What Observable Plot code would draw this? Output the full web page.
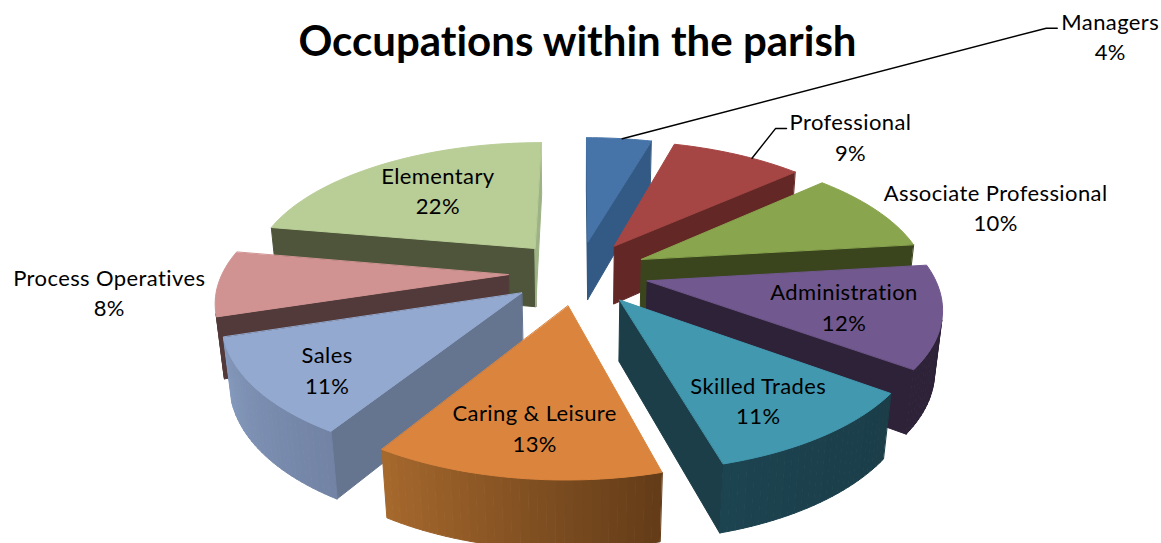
<!DOCTYPE html>
<html><head><meta charset="utf-8">
<script src="https://cdn.jsdelivr.net/npm/d3@7"></script>
<script src="https://cdn.jsdelivr.net/npm/@observablehq/plot@0.6"></script>
<style>
html,body{margin:0;padding:0;background:#fff;overflow:hidden}
#wrap{position:relative;width:1161px;height:543px}
h1{position:absolute;left:0;top:15px;width:1155px;margin:0;text-align:center;font:700 42px Lato,sans-serif;color:#000;font-variant-ligatures:none}
svg text{letter-spacing:.4px;font-variant-ligatures:none}
</style></head><body>
<div id="wrap"><h1>Occupations within the parish</h1><div id="chart"></div></div>
<script>
const occupations = ["Managers","Professional","Associate Professional","Administration","Skilled Trades","Caring & Leisure","Sales","Process Operatives","Elementary"];
const shares = [4.4,8.9,9.8,12,10.6,13.1,11.3,7.7,22.2];
const topColors = ["#4673a8","#a64644","#89a54e","#71588f","#4198af","#db843d","#93a9cf","#d09392","#b9cd96"];
const startWallColors = ["#335a84","#632826","#3a451e","#2d2238","#1b3e49","#654018","#65748f","#533a3a","#4e553a"];
const endWallColors = ["#335a84","#632826","#3a451e","#2d2238","#1b3e49","#654018","#65748f","#533a3a","#9db285"];
const rimFrom = ["#335a84","#632826","#3a451e","#2d2238","#1b3e49","#643c18","#7283a5","#533a3a","#9db285"];
const rimTo = ["#335a84","#632826","#3a451e","#2d2238","#1c4350","#a5682d","#8499bc","#533a3a","#9db285"];
const labelShift = [[502,-139],[156,-51],[205,-22],[17,3],[20,20],[-3,22],[-37,19],[-220,11],[2,-5]];
const leaderGap = {0:53,1:64};
const leaderAt = {0:.55,1:.62};

// camera model of the exploded pie (unit = pie radius)
const cam = {cx:578, cy:272, f:1485, D:5.2, elev:27.4*Math.PI/180, explode:.246, depth:.24};
function project(X,Y,Z){
  const s=Math.sin(cam.elev), c=Math.cos(cam.elev);
  const yc=Y*s+Z*c, dist=cam.D+Y*c-Z*s;
  return {x:cam.cx+cam.f*X/dist, y:cam.cy-cam.f*yc/dist};
}
const total=d3.sum(shares);
const rows=[], labels=[], order=[], leaders=[];
let acc=0;
shares.forEach((v,i)=>{
  const a0=acc/total*2*Math.PI; acc+=v; const a1=acc/total*2*Math.PI; const mid=(a0+a1)/2;
  const ox=cam.explode*Math.sin(mid), oy=cam.explode*Math.cos(mid);
  const n=Math.max(4,Math.ceil(v*2.5));
  const arc=d3.range(n+1).map(k=>{const a=a0+(a1-a0)*k/n;return [ox+Math.sin(a),oy+Math.cos(a)]});
  const t=p=>project(p[0],p[1],0), b=p=>project(p[0],p[1],-cam.depth);
  const apex=[ox,oy];
  const faces=[];
  const addWall=(p,q,color,tag)=>{
    const poly=[t(p),t(q),b(q),b(p)];
    if(d3.polygonArea(poly.map(d=>[d.x,d.y]))>0) faces.push({poly,color,tag});
  };
  addWall(apex,arc[0],startWallColors[i],"r0");
  addWall(arc[n],apex,endWallColors[i],"r1");
  const ramp=d3.interpolateRgb(rimFrom[i],rimTo[i]);
  for(let k=0;k<n;k++) addWall(arc[k],arc[k+1],ramp(k/(n-1)),"s"+k);
  faces.push({poly:[t(apex),...arc.map(t)],color:topColors[i],tag:"top"});
  order.push({i,oy,faces});
  const A=project(ox+.62*Math.sin(mid),oy+.62*Math.cos(mid),0);
  const L={x:A.x+labelShift[i][0],y:A.y+labelShift[i][1],text:occupations[i]+"\n"+Math.round(v)+"%"};
  labels.push(L);
  if(leaderGap[i]!==undefined){
    const at=a0+(a1-a0)*leaderAt[i];
    const rim=project(ox+Math.sin(at),oy+Math.cos(at),0);
    const ex=L.x-leaderGap[i], ey=L.y-7;
    [[rim.x,rim.y],[ex-11,ey],[ex,ey]].forEach(p=>leaders.push({x:p[0],y:p[1],id:i}));
  }
});
order.sort((a,b)=>b.oy-a.oy);
order.forEach(s=>s.faces.forEach(f=>f.poly.forEach(p=>rows.push({x:p.x,y:p.y,color:f.color,face:s.i+f.tag}))));
const chart=Plot.plot({
  width:1161,height:543,margin:0,
  x:{domain:[0,1161],range:[0,1161],axis:null},
  y:{domain:[0,543],range:[0,543],axis:null},
  color:{type:"identity"},
  marks:[
    Plot.line(rows,{x:"x",y:"y",z:"face",fill:"color",stroke:"color",strokeWidth:1,curve:"linear-closed"}),
    Plot.line(leaders,{x:"x",y:"y",z:"id",stroke:"#000",strokeWidth:1.5}),
    Plot.text(labels,{x:"x",y:"y",text:"text",fontSize:22,lineHeight:1.4,fontFamily:"Lato",fill:"#000"})
  ]
});
document.getElementById("chart").append(chart);
</script></body></html>
